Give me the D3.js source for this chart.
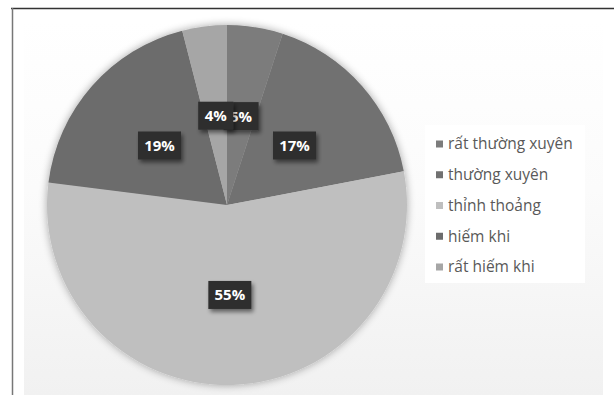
<!DOCTYPE html>
<html>
<head>
<meta charset="utf-8">
<script src="https://cdn.jsdelivr.net/npm/d3@7"></script>
<style>
  html, body { margin: 0; padding: 0; background: #ffffff; }
  svg { display: block; }
</style>
</head>
<body>
<svg id="chart" width="614" height="395"></svg>
<script>
// Survey answers: how often, share of respondents (%)
const categories = ["rất thường xuyên", "thường xuyên", "thỉnh thoảng", "hiếm khi", "rất hiếm khi"];
const values = [5, 17, 55, 19, 4];
const sliceColors = ["#7c7c7c", "#717171", "#bfbfbf", "#6c6c6c", "#a6a6a6"];

const svg = d3.select("#chart");
const W = 614, H = 395;
const defs = svg.append("defs");

// background panel
const bg = defs.append("linearGradient").attr("id", "bgGrad")
  .attr("x1", 0).attr("y1", 0).attr("x2", 0).attr("y2", 1);
bg.append("stop").attr("offset", "0%").attr("stop-color", "#ffffff");
bg.append("stop").attr("offset", "45%").attr("stop-color", "#fbfbfb");
bg.append("stop").attr("offset", "100%").attr("stop-color", "#f1f1f1");

const pieShadow = defs.append("filter").attr("id", "pieShadow")
  .attr("x", "-20%").attr("y", "-20%").attr("width", "140%").attr("height", "140%");
pieShadow.append("feGaussianBlur").attr("in", "SourceAlpha").attr("stdDeviation", 4).attr("result", "b");
pieShadow.append("feComponentTransfer").attr("in", "b").attr("result", "s")
  .append("feFuncA").attr("type", "linear").attr("slope", 0.35);
const pm = pieShadow.append("feMerge");
pm.append("feMergeNode").attr("in", "s");
pm.append("feMergeNode").attr("in", "SourceGraphic");

const boxShadow = defs.append("filter").attr("id", "boxShadow")
  .attr("x", "-30%").attr("y", "-30%").attr("width", "170%").attr("height", "180%");
boxShadow.append("feGaussianBlur").attr("in", "SourceAlpha").attr("stdDeviation", 2).attr("result", "b");
boxShadow.append("feOffset").attr("in", "b").attr("dx", 2).attr("dy", 3).attr("result", "o");
boxShadow.append("feComponentTransfer").attr("in", "o").attr("result", "s")
  .append("feFuncA").attr("type", "linear").attr("slope", 0.5);
const bm = boxShadow.append("feMerge");
bm.append("feMergeNode").attr("in", "s");
bm.append("feMergeNode").attr("in", "SourceGraphic");

svg.append("rect").attr("x", 24).attr("y", 20).attr("width", 579).attr("height", 375)
  .attr("fill", "url(#bgGrad)");

// frame lines
svg.append("line").attr("x1", 11).attr("x2", W).attr("y1", 8.5).attr("y2", 8.5)
  .attr("stroke", "#333").attr("stroke-width", 1.5);
svg.append("line").attr("x1", 12.5).attr("x2", 12.5).attr("y1", 8).attr("y2", H)
  .attr("stroke", "#777").attr("stroke-width", 1.5);

// pie, clockwise from twelve o'clock
const cx = 227, cy = 205, R = 180;
const color = d3.scaleOrdinal().domain(categories).range(sliceColors);
const pie = d3.pie().sort(null).value(d => d.value);
const data = categories.map((c, i) => ({ cat: c, value: values[i] }));
const arcs = pie(data);
const arc = d3.arc().innerRadius(0).outerRadius(R);

const g = svg.append("g").attr("transform", `translate(${cx},${cy})`);
g.append("g").attr("filter", "url(#pieShadow)")
  .selectAll("path").data(arcs).enter().append("path")
  .attr("d", arc)
  .attr("fill", d => color(d.data.cat))
  .attr("stroke", "none");

// data labels: dark boxes on each slice's centroid at half radius
const labelArc = d3.arc().innerRadius(90).outerRadius(90);
const lg = g.append("g");
arcs.forEach(d => {
  const [x, y] = labelArc.centroid(d);
  const txt = d.data.value + "%";
  const w = txt.length > 2 ? 43 : 35, h = 28;
  const item = lg.append("g").attr("transform", `translate(${x},${y})`);
  item.append("rect").attr("x", -w / 2).attr("y", -h / 2).attr("width", w).attr("height", h)
    .attr("fill", "#2e2e2e").attr("filter", "url(#boxShadow)");
  item.append("text").attr("text-anchor", "middle").attr("dy", "0.36em")
    .attr("fill", "#ffffff").attr("font-family", "'Open Sans', 'DejaVu Sans', sans-serif")
    .attr("font-weight", "bold").attr("font-size", 15).text(txt);
});

// legend
const leg = svg.append("g");
leg.append("rect").attr("x", 425).attr("y", 125).attr("width", 160).attr("height", 158)
  .attr("fill", "#ffffff");
const ly = d3.scalePoint().domain(categories).range([144, 267]);
categories.forEach(c => {
  leg.append("rect").attr("x", 436).attr("y", ly(c) - 3.5).attr("width", 7).attr("height", 7)
    .attr("fill", color(c));
  leg.append("text").attr("x", 448).attr("y", ly(c)).attr("dy", "0.35em")
    .attr("font-family", "'Open Sans', sans-serif").attr("font-size", 15.5)
    .attr("fill", "#595959").text(c);
});
</script>
</body>
</html>
